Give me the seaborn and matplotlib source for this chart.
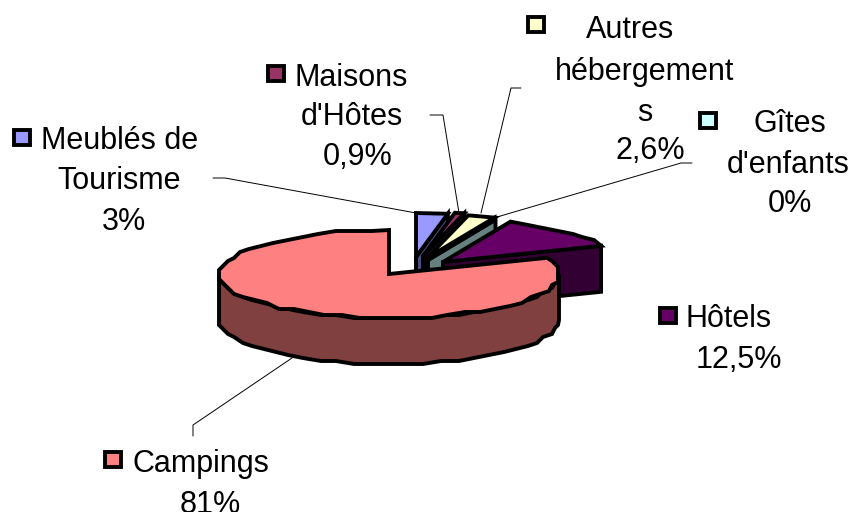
import numpy as np
import matplotlib
matplotlib.use("Agg")
import matplotlib.pyplot as plt
import seaborn as sns

# slices, clockwise from 12 o'clock
names = ["Meublés de Tourisme", "Maisons d'Hôtes", "Autres hébergements", "Gîtes d'enfants", "Hôtels", "Campings"]
shares = [3, 0.9, 2.6, 0, 12.5, 81]
top_colors = ["#9999FF", "#993366", "#FFFFCC", "#CCFFFF", "#660066", "#FF8080"]

# pie layout, in pixels of the picture
centers = [(416, 257), (423, 256), (427, 258), (428, 260), (443, 262), (389, 274)]
rx, ry, depth = 170, 44, 46

# label lines as they wrap in the original
label_lines = [
    ["Meublés de", "Tourisme", "3%"],
    ["Maisons", "d'Hôtes", "0,9%"],
    ["Autres", "hébergement", "s", "2,6%"],
    ["Gîtes", "d'enfants", "0%"],
    ["Hôtels", "12,5%"],
    ["Campings", "81%"],
]
label_x = [
    [120, 119, 124],
    [351, 352, 358],
    [630, 645, 645, 650],
    [790, 788, 790],
    [729, 739],
    [201, 210],
]
label_y = [
    [141, 181, 222],
    [78, 117, 157],
    [30, 72, 113, 151],
    [124, 165, 204],
    [319, 360],
    [464, 505],
]
key_boxes = [(14, 130), (268, 66), (528, 17), (700, 113), (660, 308), (105, 452)]
leaders = [
    [(213, 178), (225, 178), (416, 213)],
    [(430, 115), (443, 115), (459, 213)],
    [(521, 88), (511, 88), (481, 213)],
    [(692, 163), (681, 163), (497, 217)],
    [(292, 358), (193, 425), (193, 436)],
]

sns.set_theme(style="white")
plt.rcParams["font.family"] = ["Liberation Sans", "DejaVu Sans"]
side_colors = [tuple(c * 0.5 for c in col) for col in sns.color_palette(top_colors)]

fig = plt.figure(figsize=(8.55, 5.12), dpi=100)
ax = fig.add_axes([0, 0, 1, 1])
ax.set_xlim(0, 855)
ax.set_ylim(512, 0)
ax.axis("off")


def rim(c, a0, a1):
    # coarse outline, snapped like the old office renderer
    n = max(2, int(abs(a1 - a0) / 6) + 1)
    t = np.radians(np.linspace(a0, a1, n))
    x = c[0] + rx * np.cos(t)
    y = c[1] - ry * np.sin(t)
    if n > 3:
        x = np.round(x / 3) * 3
        y = np.round(y / 3) * 3
        x[0], y[0] = c[0] + rx * np.cos(t[0]), c[1] - ry * np.sin(t[0])
        x[-1], y[-1] = c[0] + rx * np.cos(t[-1]), c[1] - ry * np.sin(t[-1])
    return np.column_stack([x, y])


def face(pts, col, z):
    pts = np.asarray(pts)
    ax.fill(pts[:, 0], pts[:, 1], facecolor=col, edgecolor="black", linewidth=2.8,
            joinstyle="miter", zorder=z)


ends = 90 - np.cumsum([0] + shares) * 3.6
for i, name in enumerate(names):
    c = centers[i]
    a0, a1 = ends[i], ends[i + 1]
    z = 2 + i
    if name == "Campings":
        # only the front of the big slice shows its wall
        front = rim(c, 180, 360)
        face(np.vstack([front, front[::-1] + [0, depth]]), side_colors[i], z)
    else:
        # cut plane on the clockwise side
        end = rim(c, a1, a1)[0]
        face([c, end, end + [0, depth], (c[0], c[1] + depth)], side_colors[i], z)
    top = np.vstack([[c], rim(c, a0, a1)])
    face(top, top_colors[i], z)

for pts in leaders:
    xs, ys = zip(*pts)
    ax.plot(xs, ys, color="black", linewidth=0.7, zorder=1)

for i in range(len(names)):
    kx, ky = key_boxes[i]
    ax.fill([kx, kx + 16, kx + 16, kx], [ky, ky, ky + 15, ky + 15], facecolor=top_colors[i],
            edgecolor="black", linewidth=2.8, joinstyle="miter", zorder=10)
    for line, x, y in zip(label_lines[i], label_x[i], label_y[i]):
        ax.text(x, y, line, ha="center", va="center", fontsize=22, color="black", zorder=11)

fig.savefig("out.png", dpi=100)
